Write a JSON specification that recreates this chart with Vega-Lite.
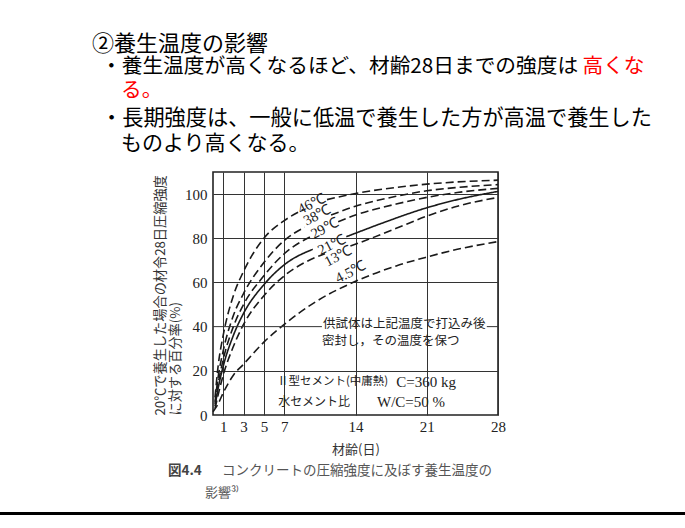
{
  "$schema": "https://vega.github.io/schema/vega-lite/v6.json",
  "width": 285,
  "height": 243,
  "autosize": {"type": "none"},
  "padding": {"left": 213, "top": 172, "right": 187, "bottom": 113},
  "background": "white",
  "config": {
    "view": {"stroke": "#222", "strokeWidth": 1.6},
    "font": "Noto Sans CJK JP"
  },
  "datasets": {
    "curves": [
      {"t": "46℃", "seg": "46a", "d": 0.2, "v": 8}, {"t": "46℃", "seg": "46a", "d": 0.5, "v": 22}, {"t": "46℃", "seg": "46a", "d": 1, "v": 36}, {"t": "46℃", "seg": "46a", "d": 2, "v": 54}, {"t": "46℃", "seg": "46a", "d": 3, "v": 65}, {"t": "46℃", "seg": "46a", "d": 5, "v": 80}, {"t": "46℃", "seg": "46a", "d": 7, "v": 88}, {"t": "46℃", "seg": "46a", "d": 8.9, "v": 93},
      {"t": "46℃", "seg": "46b", "d": 11.2, "v": 97.5}, {"t": "46℃", "seg": "46b", "d": 14, "v": 100.3}, {"t": "46℃", "seg": "46b", "d": 18, "v": 103}, {"t": "46℃", "seg": "46b", "d": 21, "v": 104.5}, {"t": "46℃", "seg": "46b", "d": 24, "v": 105.5}, {"t": "46℃", "seg": "46b", "d": 28, "v": 106.3},
      {"t": "38℃", "seg": "38a", "d": 0.2, "v": 6}, {"t": "38℃", "seg": "38a", "d": 0.5, "v": 17}, {"t": "38℃", "seg": "38a", "d": 1, "v": 29}, {"t": "38℃", "seg": "38a", "d": 2, "v": 45}, {"t": "38℃", "seg": "38a", "d": 3, "v": 55}, {"t": "38℃", "seg": "38a", "d": 5, "v": 69}, {"t": "38℃", "seg": "38a", "d": 7, "v": 79}, {"t": "38℃", "seg": "38a", "d": 9, "v": 85},
      {"t": "38℃", "seg": "38b", "d": 11.6, "v": 90.5}, {"t": "38℃", "seg": "38b", "d": 14, "v": 94.5}, {"t": "38℃", "seg": "38b", "d": 18, "v": 99}, {"t": "38℃", "seg": "38b", "d": 21, "v": 101.5}, {"t": "38℃", "seg": "38b", "d": 24, "v": 103}, {"t": "38℃", "seg": "38b", "d": 28, "v": 104.3},
      {"t": "29℃", "seg": "29a", "d": 0.2, "v": 5}, {"t": "29℃", "seg": "29a", "d": 0.5, "v": 14}, {"t": "29℃", "seg": "29a", "d": 1, "v": 25}, {"t": "29℃", "seg": "29a", "d": 2, "v": 40}, {"t": "29℃", "seg": "29a", "d": 3, "v": 50}, {"t": "29℃", "seg": "29a", "d": 5, "v": 63}, {"t": "29℃", "seg": "29a", "d": 7, "v": 73}, {"t": "29℃", "seg": "29a", "d": 9.7, "v": 81},
      {"t": "29℃", "seg": "29b", "d": 12.3, "v": 87.5}, {"t": "29℃", "seg": "29b", "d": 14, "v": 90.5}, {"t": "29℃", "seg": "29b", "d": 18, "v": 95.5}, {"t": "29℃", "seg": "29b", "d": 21, "v": 98.5}, {"t": "29℃", "seg": "29b", "d": 24, "v": 100.7}, {"t": "29℃", "seg": "29b", "d": 28, "v": 102.6},
      {"t": "21℃", "seg": "21a", "d": 0.2, "v": 4}, {"t": "21℃", "seg": "21a", "d": 0.5, "v": 12}, {"t": "21℃", "seg": "21a", "d": 1, "v": 22}, {"t": "21℃", "seg": "21a", "d": 2, "v": 36}, {"t": "21℃", "seg": "21a", "d": 3, "v": 46}, {"t": "21℃", "seg": "21a", "d": 5, "v": 59}, {"t": "21℃", "seg": "21a", "d": 7, "v": 68}, {"t": "21℃", "seg": "21a", "d": 9.8, "v": 75},
      {"t": "21℃", "seg": "21b", "d": 13.1, "v": 80.7}, {"t": "21℃", "seg": "21b", "d": 14.4, "v": 83}, {"t": "21℃", "seg": "21b", "d": 17, "v": 87.5}, {"t": "21℃", "seg": "21b", "d": 21, "v": 93.8}, {"t": "21℃", "seg": "21b", "d": 24, "v": 97.5}, {"t": "21℃", "seg": "21b", "d": 28, "v": 101.2},
      {"t": "13℃", "seg": "13a", "d": 0.2, "v": 3}, {"t": "13℃", "seg": "13a", "d": 0.5, "v": 9}, {"t": "13℃", "seg": "13a", "d": 1, "v": 18}, {"t": "13℃", "seg": "13a", "d": 2, "v": 31}, {"t": "13℃", "seg": "13a", "d": 3, "v": 41}, {"t": "13℃", "seg": "13a", "d": 5, "v": 54}, {"t": "13℃", "seg": "13a", "d": 7, "v": 63}, {"t": "13℃", "seg": "13a", "d": 9, "v": 69}, {"t": "13℃", "seg": "13a", "d": 11, "v": 73},
      {"t": "13℃", "seg": "13b", "d": 13.5, "v": 76.5}, {"t": "13℃", "seg": "13b", "d": 14.4, "v": 78}, {"t": "13℃", "seg": "13b", "d": 18, "v": 84.5}, {"t": "13℃", "seg": "13b", "d": 21, "v": 90}, {"t": "13℃", "seg": "13b", "d": 24, "v": 94.5}, {"t": "13℃", "seg": "13b", "d": 28, "v": 98.5},
      {"t": "4.5℃", "seg": "4a", "d": 0, "v": 1.5}, {"t": "4.5℃", "seg": "4a", "d": 0.5, "v": 5}, {"t": "4.5℃", "seg": "4a", "d": 1, "v": 10}, {"t": "4.5℃", "seg": "4a", "d": 2, "v": 18}, {"t": "4.5℃", "seg": "4a", "d": 3, "v": 23}, {"t": "4.5℃", "seg": "4a", "d": 5, "v": 33}, {"t": "4.5℃", "seg": "4a", "d": 7, "v": 41}, {"t": "4.5℃", "seg": "4a", "d": 10, "v": 51}, {"t": "4.5℃", "seg": "4a", "d": 14, "v": 60.5}, {"t": "4.5℃", "seg": "4a", "d": 18, "v": 67.5}, {"t": "4.5℃", "seg": "4a", "d": 21, "v": 71.5}, {"t": "4.5℃", "seg": "4a", "d": 24, "v": 75}, {"t": "4.5℃", "seg": "4a", "d": 28, "v": 78.5}
    ],
    "labels": [
      {"t": "46℃", "d": 9.7, "v": 95.4},
      {"t": "38℃", "d": 10.26, "v": 90.2},
      {"t": "29℃", "d": 10.98, "v": 84.2},
      {"t": "21℃", "d": 11.66, "v": 76.9},
      {"t": "13℃", "d": 12.31, "v": 71.7},
      {"t": "4.5℃", "d": 13.54, "v": 64.5}
    ]
  },
  "layer": [
    {
      "data": {"name": "curves"},
      "mark": {"type": "line", "interpolate": "monotone", "color": "#1a1a1a"},
      "encoding": {
        "x": {
          "field": "d", "type": "quantitative",
          "scale": {"domain": [0, 28], "nice": false, "zero": false},
          "axis": {
            "values": [1, 3, 5, 7, 14, 21, 28], "grid": true, "gridColor": "#333", "gridWidth": 1,
            "ticks": false, "domain": false, "labelFlush": false,
            "labelFont": "Liberation Serif", "labelFontSize": 15, "labelColor": "#222", "labelPadding": 4,
            "title": "材齢(日)", "titleFont": "Noto Sans CJK JP", "titleFontSize": 13, "titleFontWeight": "normal",
            "titleColor": "#333", "titlePadding": 9
          }
        },
        "y": {
          "field": "v", "type": "quantitative",
          "scale": {"domain": [0, 110], "nice": false},
          "axis": {
            "values": [0, 20, 40, 60, 80, 100], "grid": true, "gridColor": "#333", "gridWidth": 1,
            "gridOpacity": {"condition": {"test": "datum.value === 40 || datum.value === 0", "value": 0}, "value": 1},
            "ticks": false, "domain": false,
            "labelFont": "Liberation Serif", "labelFontSize": 15, "labelColor": "#222", "labelPadding": 6,
            "title": ["20℃で養生した場合の材令28日圧縮強度", "に対する百分率(%)"],
            "titleFont": "Noto Sans CJK JP", "titleFontSize": 13.2, "titleFontWeight": "normal", "titleColor": "#333",
            "titleAnchor": "start", "titleAlign": "left", "titleLineHeight": 15, "titlePadding": 2
          }
        },
        "detail": {"field": "seg"},
        "strokeDash": {
          "field": "t", "type": "nominal", "legend": null,
          "scale": {"domain": ["46℃", "38℃", "29℃", "21℃", "13℃", "4.5℃"], "range": [[8, 4], [8, 4], [8, 4], [1, 0], [8, 4], [8, 4]]}
        },
        "strokeWidth": {
          "field": "t", "type": "nominal", "legend": null,
          "scale": {"domain": ["46℃", "38℃", "29℃", "21℃", "13℃", "4.5℃"], "range": [1.6, 1.6, 1.6, 2.4, 1.6, 1.6]}
        }
      }
    },
    {
      "data": {"values": [{"from": 0, "to": 10.7}, {"from": 26.9, "to": 28}]},
      "mark": {"type": "rule", "color": "#333", "strokeWidth": 1},
      "encoding": {
        "x": {"field": "from", "type": "quantitative", "scale": {"domain": [0, 28], "nice": false, "zero": false}},
        "x2": {"field": "to"},
        "y": {"datum": 40, "type": "quantitative", "scale": {"domain": [0, 110], "nice": false}}
      }
    },
    {
      "data": {"name": "labels"},
      "mark": {"type": "text", "font": "Liberation Serif", "fontSize": 14.5, "color": "#1a1a1a", "angle": 333, "align": "center", "baseline": "middle"},
      "encoding": {
        "x": {"field": "d", "type": "quantitative", "scale": {"domain": [0, 28], "nice": false, "zero": false}},
        "y": {"field": "v", "type": "quantitative", "scale": {"domain": [0, 110], "nice": false}},
        "text": {"field": "t"}
      }
    },
    {
      "data": {"values": [{"s": "供試体は上記温度で打込み後"}]},
      "mark": {"type": "text", "fontSize": 12.5, "color": "#222", "align": "left", "baseline": "middle"},
      "encoding": {
        "x": {"datum": 10.81, "type": "quantitative", "scale": {"domain": [0, 28], "nice": false, "zero": false}},
        "y": {"datum": 41.2, "type": "quantitative", "scale": {"domain": [0, 110], "nice": false}},
        "text": {"field": "s"}
      }
    },
    {
      "data": {"values": [{"s": "密封し，その温度を保つ"}]},
      "mark": {"type": "text", "fontSize": 12.5, "color": "#222", "align": "left", "baseline": "middle"},
      "encoding": {
        "x": {"datum": 10.71, "type": "quantitative", "scale": {"domain": [0, 28], "nice": false, "zero": false}},
        "y": {"datum": 33.5, "type": "quantitative", "scale": {"domain": [0, 110], "nice": false}},
        "text": {"field": "s"}
      }
    },
    {
      "data": {"values": [{"s": "Ⅱ型セメント(中庸熱)"}]},
      "mark": {"type": "text", "fontSize": 11.5, "color": "#222", "align": "left", "baseline": "middle"},
      "encoding": {
        "x": {"datum": 6.3, "type": "quantitative", "scale": {"domain": [0, 28], "nice": false, "zero": false}},
        "y": {"datum": 14.9, "type": "quantitative", "scale": {"domain": [0, 110], "nice": false}},
        "text": {"field": "s"}
      }
    },
    {
      "data": {"values": [{"s": "C=360 kg"}]},
      "mark": {"type": "text", "font": "Liberation Serif", "fontSize": 15, "color": "#222", "align": "left", "baseline": "middle"},
      "encoding": {
        "x": {"datum": 18.0, "type": "quantitative", "scale": {"domain": [0, 28], "nice": false, "zero": false}},
        "y": {"datum": 14.9, "type": "quantitative", "scale": {"domain": [0, 110], "nice": false}},
        "text": {"field": "s"}
      }
    },
    {
      "data": {"values": [{"s": "水セメント比"}]},
      "mark": {"type": "text", "fontSize": 12, "color": "#222", "align": "left", "baseline": "middle"},
      "encoding": {
        "x": {"datum": 6.4, "type": "quantitative", "scale": {"domain": [0, 28], "nice": false, "zero": false}},
        "y": {"datum": 5.9, "type": "quantitative", "scale": {"domain": [0, 110], "nice": false}},
        "text": {"field": "s"}
      }
    },
    {
      "data": {"values": [{"s": "W/C=50 %"}]},
      "mark": {"type": "text", "font": "Liberation Serif", "fontSize": 15, "color": "#222", "align": "left", "baseline": "middle"},
      "encoding": {
        "x": {"datum": 16.11, "type": "quantitative", "scale": {"domain": [0, 28], "nice": false, "zero": false}},
        "y": {"datum": 5.9, "type": "quantitative", "scale": {"domain": [0, 110], "nice": false}},
        "text": {"field": "s"}
      }
    },
    {
      "data": {"values": [{"s": "図4.4"}]},
      "mark": {"type": "text", "fontSize": 13.5, "fontWeight": "bold", "color": "#444", "align": "left", "baseline": "middle"},
      "encoding": {
        "x": {"datum": -4.42, "type": "quantitative", "scale": {"domain": [0, 28], "nice": false, "zero": false}},
        "y": {"datum": -25.5, "type": "quantitative", "scale": {"domain": [0, 110], "nice": false}},
        "text": {"field": "s"}
      }
    },
    {
      "data": {"values": [{"s": "コンクリートの圧縮強度に及ぼす養生温度の"}]},
      "mark": {"type": "text", "fontSize": 13.5, "color": "#555", "align": "left", "baseline": "middle"},
      "encoding": {
        "x": {"datum": 0.88, "type": "quantitative", "scale": {"domain": [0, 28], "nice": false, "zero": false}},
        "y": {"datum": -25.5, "type": "quantitative", "scale": {"domain": [0, 110], "nice": false}},
        "text": {"field": "s"}
      }
    },
    {
      "data": {"values": [{"s": "影響³⁾"}]},
      "mark": {"type": "text", "fontSize": 13, "color": "#555", "align": "left", "baseline": "middle"},
      "encoding": {
        "x": {"datum": -0.79, "type": "quantitative", "scale": {"domain": [0, 28], "nice": false, "zero": false}},
        "y": {"datum": -35.3, "type": "quantitative", "scale": {"domain": [0, 110], "nice": false}},
        "text": {"field": "s"}
      }
    },
    {
      "data": {"values": [{"s": "②養生温度の影響"}]},
      "mark": {"type": "text", "fontSize": 22, "color": "#000", "align": "left", "baseline": "middle"},
      "encoding": {
        "x": {"datum": -11.89, "type": "quantitative", "scale": {"domain": [0, 28], "nice": false, "zero": false}},
        "y": {"datum": 167.9, "type": "quantitative", "scale": {"domain": [0, 110], "nice": false}},
        "text": {"field": "s"}
      }
    },
    {
      "data": {"values": [{"s": "・養生温度が高くなるほど、材齢28日までの強度は"}]},
      "mark": {"type": "text", "fontSize": 20.7, "color": "#000", "align": "left", "baseline": "middle"},
      "encoding": {
        "x": {"datum": -11.0, "type": "quantitative", "scale": {"domain": [0, 28], "nice": false, "zero": false}},
        "y": {"datum": 157.5, "type": "quantitative", "scale": {"domain": [0, 110], "nice": false}},
        "text": {"field": "s"}
      }
    },
    {
      "data": {"values": [{"s": "高くな"}]},
      "mark": {"type": "text", "fontSize": 20.7, "color": "#ff0000", "align": "left", "baseline": "middle"},
      "encoding": {
        "x": {"datum": 36.3, "type": "quantitative", "scale": {"domain": [0, 28], "nice": false, "zero": false}},
        "y": {"datum": 157.5, "type": "quantitative", "scale": {"domain": [0, 110], "nice": false}},
        "text": {"field": "s"}
      }
    },
    {
      "data": {"values": [{"s": "る。"}]},
      "mark": {"type": "text", "fontSize": 20.7, "color": "#ff0000", "align": "left", "baseline": "middle"},
      "encoding": {
        "x": {"datum": -9.04, "type": "quantitative", "scale": {"domain": [0, 28], "nice": false, "zero": false}},
        "y": {"datum": 146.7, "type": "quantitative", "scale": {"domain": [0, 110], "nice": false}},
        "text": {"field": "s"}
      }
    },
    {
      "data": {"values": [{"s": "・長期強度は、一般に低温で養生した方が高温で養生した"}]},
      "mark": {"type": "text", "fontSize": 21.2, "color": "#000", "align": "left", "baseline": "middle"},
      "encoding": {
        "x": {"datum": -11.0, "type": "quantitative", "scale": {"domain": [0, 28], "nice": false, "zero": false}},
        "y": {"datum": 134.0, "type": "quantitative", "scale": {"domain": [0, 110], "nice": false}},
        "text": {"field": "s"}
      }
    },
    {
      "data": {"values": [{"s": "ものより高くなる。"}]},
      "mark": {"type": "text", "fontSize": 21, "color": "#000", "align": "left", "baseline": "middle"},
      "encoding": {
        "x": {"datum": -9.04, "type": "quantitative", "scale": {"domain": [0, 28], "nice": false, "zero": false}},
        "y": {"datum": 122.7, "type": "quantitative", "scale": {"domain": [0, 110], "nice": false}},
        "text": {"field": "s"}
      }
    },
    {
      "data": {"values": [{"from": -21, "to": 46.5}]},
      "mark": {"type": "rule", "color": "#000", "strokeWidth": 3},
      "encoding": {
        "x": {"field": "from", "type": "quantitative", "scale": {"domain": [0, 28], "nice": false, "zero": false}},
        "x2": {"field": "to"},
        "y": {"datum": -44.6, "type": "quantitative", "scale": {"domain": [0, 110], "nice": false}}
      }
    }
  ]
}
